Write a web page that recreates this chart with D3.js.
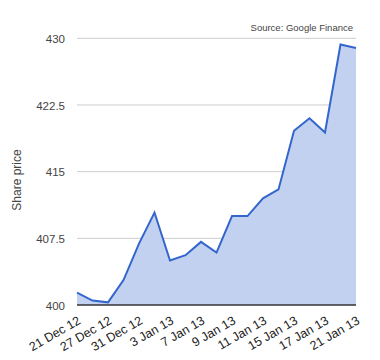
<!DOCTYPE html>
<html>
<head>
<meta charset="utf-8">
<script src="https://cdn.jsdelivr.net/npm/d3@7"></script>
<style>
  html, body { margin: 0; padding: 0; background: #fff; }
  svg { display: block; font-family: "Liberation Sans", Arial, sans-serif; }
</style>
</head>
<body>
<svg id="chart" width="380" height="360"></svg>
<script>
const dates = ["21 Dec 12","24 Dec 12","27 Dec 12","28 Dec 12","31 Dec 12","2 Jan 13","3 Jan 13","4 Jan 13","7 Jan 13","8 Jan 13","9 Jan 13","10 Jan 13","11 Jan 13","14 Jan 13","15 Jan 13","16 Jan 13","17 Jan 13","18 Jan 13","21 Jan 13"];
const prices = [401.4, 400.5, 400.3, 402.8, 406.9, 410.4, 405.0, 405.6, 407.1, 405.9, 410.0, 410.0, 412.0, 413.0, 419.6, 421.0, 419.4, 429.3, 428.9];
const xTickLabels = ["21 Dec 12","27 Dec 12","31 Dec 12","3 Jan 13","7 Jan 13","9 Jan 13","11 Jan 13","15 Jan 13","17 Jan 13","21 Jan 13"];
const yTicks = [400, 407.5, 415, 422.5, 430];
const yLabel = "Share price";
const sourceText = "Source: Google Finance";

const svg = d3.select("#chart");
const mLeft = 77, mRight = 356, mTop = 38.3, mBottom = 305;

const x = d3.scalePoint().domain(dates).range([mLeft, mRight]);
const y = d3.scaleLinear().domain([400, 430]).range([mBottom, mTop]);

// gridlines
svg.append("g").selectAll("line").data(yTicks.filter(d => d !== 400)).join("line")
  .attr("x1", mLeft).attr("x2", mRight)
  .attr("y1", d => y(d)).attr("y2", d => y(d))
  .attr("stroke", "#cccccc").attr("stroke-width", 1);

// area
const data = dates.map((d, i) => ({ d, v: prices[i] }));
svg.append("path").datum(data)
  .attr("fill", "#c2d1f0")
  .attr("d", d3.area().x(p => x(p.d)).y0(y(400)).y1(p => y(p.v)));

// baseline
svg.append("line").attr("x1", mLeft).attr("x2", mRight)
  .attr("y1", y(400)).attr("y2", y(400))
  .attr("stroke", "#333333").attr("stroke-width", 1.5);

// line
svg.append("path").datum(data)
  .attr("fill", "none").attr("stroke", "#3366cc").attr("stroke-width", 2)
  .attr("stroke-linejoin", "miter")
  .attr("d", d3.line().x(p => x(p.d)).y(p => y(p.v)));

// y axis labels
const yAxis = d3.axisLeft(y).tickValues(yTicks).tickSize(0).tickPadding(0)
  .tickFormat(d => String(d));
const gy = svg.append("g").attr("transform", `translate(${mLeft - 12},0)`).call(yAxis);
gy.select(".domain").remove();
gy.selectAll("text").attr("fill", "#444").attr("font-size", 11.5)
  .attr("font-family", "Liberation Sans, Arial, sans-serif").attr("dy", "0.35em");

// x axis labels
const xAxis = d3.axisBottom(x).tickValues(xTickLabels).tickSize(0).tickPadding(0);
const gx = svg.append("g").attr("transform", `translate(0,${mBottom})`).call(xAxis);
gx.select(".domain").remove();
gx.selectAll("text")
  .attr("fill", "#222").attr("font-size", 12.5)
  .attr("font-family", "Liberation Sans, Arial, sans-serif")
  .attr("text-anchor", "end")
  .attr("y", 0).attr("dy", 0)
  .attr("transform", "translate(4,18) rotate(-30)");

// y title
svg.append("text")
  .attr("transform", `translate(21,180) rotate(-90)`)
  .attr("text-anchor", "middle")
  .attr("fill", "#444").attr("font-size", 12)
  .text(yLabel);

// source
svg.append("text")
  .attr("x", 353).attr("y", 31)
  .attr("text-anchor", "end")
  .attr("fill", "#444").attr("font-size", 9.5)
  .text(sourceText);
</script>
</body>
</html>
